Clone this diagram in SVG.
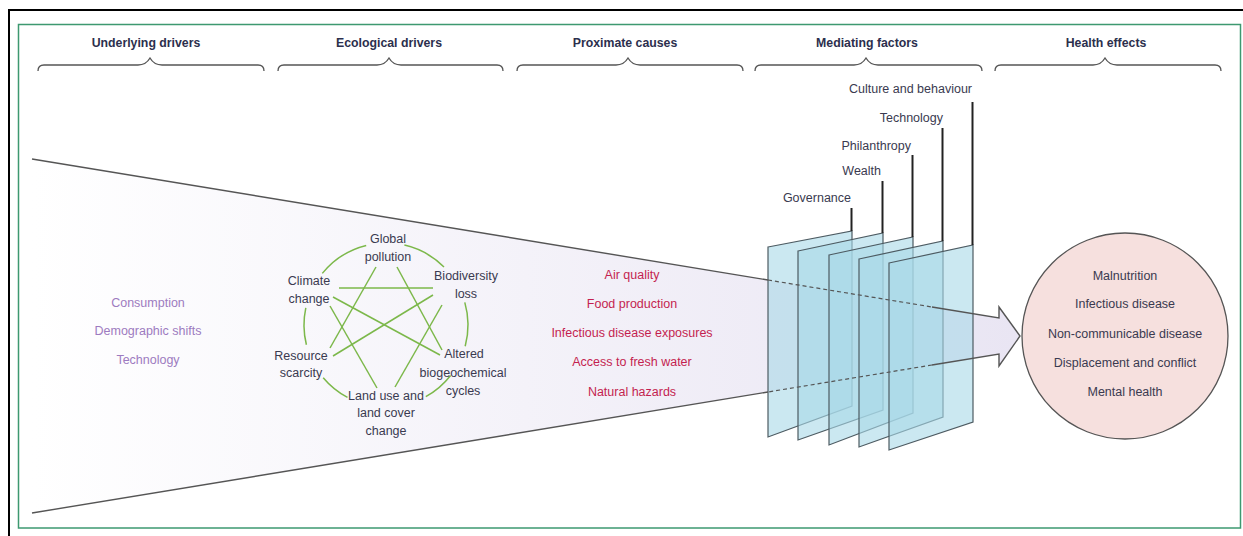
<svg xmlns="http://www.w3.org/2000/svg" width="1243" height="536" viewBox="0 0 1243 536">
<defs>
<linearGradient id="funnelGrad" x1="32" y1="0" x2="1020" y2="0" gradientUnits="userSpaceOnUse">
<stop offset="0" stop-color="#ffffff"/>
<stop offset="1" stop-color="#e9e5f3"/>
</linearGradient>
<style>
text{font-family:"Liberation Sans",Arial,sans-serif;font-size:12.5px;text-anchor:middle}
.hdr{font-weight:bold;font-size:12.3px;fill:#2c2f4d}
.brace{fill:none;stroke:#555;stroke-width:1.3}
.und{fill:#9d7bc0}
.prox{fill:#c41f50}
.med{fill:#3a3a50}
.eco{fill:#3a3a50}
.hlt{fill:#3a3a50}
.green{fill:none;stroke:#7cb84a;stroke-width:1.5}
.panel{fill:#a9d9e8;fill-opacity:0.6;stroke:#4d5b62;stroke-width:1.2}
.pole{stroke:#222;stroke-width:2}
.fl{fill:none;stroke:#555;stroke-width:1.4}
.fld{fill:none;stroke:#555;stroke-width:1.2;stroke-dasharray:4 3}
</style>
</defs>
<rect x="9" y="10" width="1245" height="540" fill="#fff" stroke="#000" stroke-width="2"/>
<rect x="18.5" y="24.5" width="1222" height="503.5" fill="#fff" stroke="#3d9970" stroke-width="1.5"/>

<g id="headers">
<text class="hdr" x="146" y="47">Underlying drivers</text>
<text class="hdr" x="389" y="47">Ecological drivers</text>
<text class="hdr" x="625" y="47">Proximate causes</text>
<text class="hdr" x="867" y="47">Mediating factors</text>
<text class="hdr" x="1106" y="47">Health effects</text>
<path class="brace" d="M38 71 Q38 65 44 65 L138 65 Q146 65 150 58 Q154 65 162 65 L258 65 Q264 65 264 71"/>
<path class="brace" d="M278 71 Q278 65 284 65 L377 65 Q385 65 389 58 Q393 65 401 65 L497 65 Q503 65 503 71"/>
<path class="brace" d="M517 71 Q517 65 523 65 L616 65 Q624 65 628 58 Q632 65 640 65 L737 65 Q743 65 743 71"/>
<path class="brace" d="M755 71 Q755 65 761 65 L854 65 Q862 65 866 58 Q870 65 878 65 L976 65 Q982 65 982 71"/>
<path class="brace" d="M995 71 Q995 65 1001 65 L1093 65 Q1101 65 1105 58 Q1109 65 1117 65 L1215 65 Q1221 65 1221 71"/>
</g>

<g id="funnel">
<polygon points="32,159 999,318 999,307 1020,336 999,366 999,354 32,513" fill="url(#funnelGrad)"/>
</g>

<g id="underlying-drivers">
<text class="und" x="148" y="307">Consumption</text>
<text class="und" x="148" y="335">Demographic shifts</text>
<text class="und" x="148" y="364">Technology</text>
</g>

<g id="ecological-network">
<path class="green" d="M322.3 273.4 A82 82 0 0 1 366.2 245.4"/>
<path class="green" d="M404.4 245.1 A82 82 0 0 1 444 267"/>
<path class="green" d="M464.8 302.4 A82 82 0 0 1 465.2 346.2"/>
<path class="green" d="M450.6 375.5 A82 82 0 0 1 425.8 396.7"/>
<path class="green" d="M347.5 397.4 A82 82 0 0 1 323.2 377.7"/>
<path class="green" d="M306.4 344.8 A82 82 0 0 1 305.8 307.9"/>
<line class="green" x1="339" y1="288" x2="433" y2="288" stroke-width="2.2"/>
<line class="green" x1="376" y1="267" x2="330" y2="348"/>
<line class="green" x1="397" y1="267" x2="442" y2="350"/>
<line class="green" x1="333" y1="297" x2="440" y2="355"/>
<line class="green" x1="330" y1="306" x2="377" y2="388"/>
<line class="green" x1="433" y1="295" x2="333" y2="356"/>
<line class="green" x1="442" y1="305" x2="395" y2="387"/>
</g>
<g id="node-global-pollution"><text class="eco" x="388" y="243">Global</text><text class="eco" x="388" y="261">pollution</text></g>
<g id="node-climate-change"><text class="eco" x="309" y="285">Climate</text><text class="eco" x="309" y="303">change</text></g>
<g id="node-biodiversity-loss"><text class="eco" x="466" y="280">Biodiversity</text><text class="eco" x="466" y="298">loss</text></g>
<g id="node-resource-scarcity"><text class="eco" x="301" y="360">Resource</text><text class="eco" x="301" y="377">scarcity</text></g>
<g id="node-altered-cycles"><text class="eco" x="464" y="358">Altered</text><text class="eco" x="463" y="377">biogeochemical</text><text class="eco" x="463" y="395">cycles</text></g>
<g id="node-land-use"><text class="eco" x="386" y="400">Land use and</text><text class="eco" x="386" y="417">land cover</text><text class="eco" x="386" y="435">change</text></g>

<g id="proximate-causes">
<text class="prox" x="632" y="279">Air quality</text>
<text class="prox" x="632" y="308">Food production</text>
<text class="prox" x="632" y="337">Infectious disease exposures</text>
<text class="prox" x="632" y="366">Access to fresh water</text>
<text class="prox" x="632" y="396">Natural hazards</text>
</g>

<g id="mediating-factors">
<g id="panel-governance"><polygon class="panel" points="768,247 852,231 852,406 768,437"/><line class="pole" x1="851.5" y1="208" x2="851.5" y2="231"/><text class="med" x="851" y="202" style="text-anchor:end">Governance</text></g>
<g id="panel-wealth"><polygon class="panel" points="798,251 883,233 883,410 798,440"/><line class="pole" x1="882.5" y1="181" x2="882.5" y2="233"/><text class="med" x="881" y="175" style="text-anchor:end">Wealth</text></g>
<g id="panel-philanthropy"><polygon class="panel" points="829,255 913,237 913,413 829,445"/><line class="pole" x1="912.5" y1="155" x2="912.5" y2="237"/><text class="med" x="911" y="150" style="text-anchor:end">Philanthropy</text></g>
<g id="panel-technology"><polygon class="panel" points="859,259 943,241 943,417 859,447"/><line class="pole" x1="942.5" y1="128" x2="942.5" y2="241"/><text class="med" x="943" y="122" style="text-anchor:end">Technology</text></g>
<g id="panel-culture"><polygon class="panel" points="889,263 973,245 973,422 889,450"/><line class="pole" x1="972.5" y1="102" x2="972.5" y2="245"/><text class="med" x="972" y="93" style="text-anchor:end">Culture and behaviour</text></g>
</g>

<g id="connectors">
<path class="fl" d="M32 159 L768 280"/>
<path class="fld" d="M768 280 L932 307"/>
<path class="fl" d="M932 307 L999 318 L999 307 L1020 336 L999 366 L999 354 L932 365"/>
<path class="fld" d="M932 365 L768 392"/>
<path class="fl" d="M768 392 L32 513"/>
</g>

<g id="health-effects">
<circle cx="1125" cy="336" r="103" fill="#f6e0de" stroke="#555" stroke-width="1.3"/>
<text class="hlt" x="1125" y="280">Malnutrition</text>
<text class="hlt" x="1125" y="308">Infectious disease</text>
<text class="hlt" x="1125" y="338">Non-communicable disease</text>
<text class="hlt" x="1125" y="367">Displacement and conflict</text>
<text class="hlt" x="1125" y="396">Mental health</text>
</g>
</svg>
